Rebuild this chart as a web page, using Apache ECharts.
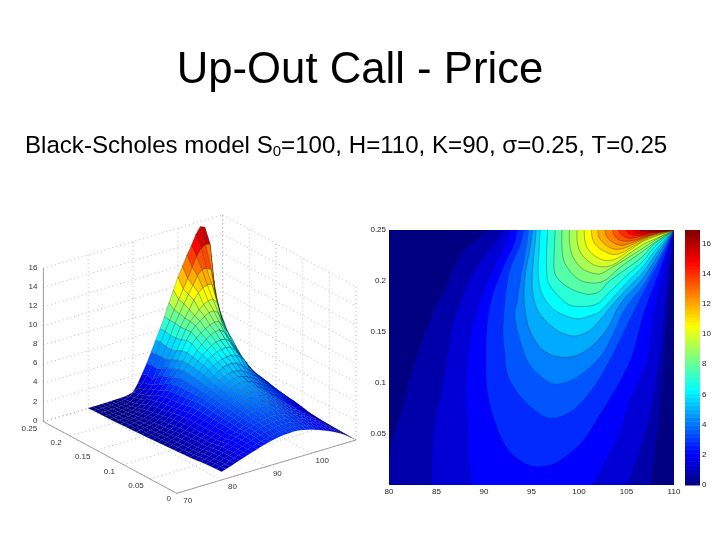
<!DOCTYPE html>
<html><head><meta charset="utf-8">
<style>html,body{margin:0;padding:0;background:#fff}#c{width:720px;height:540px}</style>
<script src="https://cdn.jsdelivr.net/npm/echarts@6/dist/echarts.min.js"></script>
</head><body><div id="c"></div>
<script>
// ---------- tick labels ----------
const priceTicks3D = [0,2,4,6,8,10,12,14,16];
const spotTicks3D = [70,80,90,100,110];
const timeTicks3D = [0,0.05,0.1,0.15,0.2,0.25];
const colorbarTop = 16.9;
const surfaceColorTop = 15.8;
// ---------- surface readings: columns S=80..110 step 1, rows t=0..0.25 step 0.01 ----------
const spotValues = [80,81,82,83,84,85,86,87,88,89,90,91,92,93,94,95,96,97,98,99,100,101,102,103,104,105,106,107,108,109,110];
const timeValues = [0,.01,.02,.03,.04,.05,.06,.07,.08,.09,.1,.11,.12,.13,.14,.15,.16,.17,.18,.19,.2,.21,.22,.23,.24,.25];
const priceGrid = [
[.87,1.0,1.15,1.32,1.5,1.65,1.82,1.98,2.13,2.28,2.42,2.53,2.63,2.72,2.78,2.8,2.82,2.8,2.72,2.6,2.48,2.32,2.15,1.97,1.77,1.55,1.3,1.05,.72,.37,0],
[.85,.97,1.1,1.27,1.44,1.6,1.76,1.92,2.08,2.22,2.36,2.48,2.6,2.7,2.78,2.85,2.9,2.88,2.82,2.72,2.6,2.44,2.27,2.08,1.87,1.64,1.38,1.1,.78,.4,0],
[.82,.95,1.08,1.24,1.41,1.58,1.76,1.94,2.12,2.28,2.43,2.57,2.7,2.82,2.9,2.97,3.0,2.98,2.92,2.82,2.7,2.54,2.37,2.17,1.95,1.71,1.44,1.15,.82,.42,0],
[.78,.91,1.05,1.21,1.38,1.57,1.76,1.96,2.15,2.33,2.5,2.65,2.8,2.93,3.03,3.1,3.12,3.1,3.03,2.92,2.8,2.63,2.45,2.24,2.02,1.77,1.5,1.2,.85,.44,0],
[.7,.85,1.0,1.17,1.35,1.55,1.75,1.97,2.18,2.38,2.56,2.73,2.9,3.04,3.15,3.22,3.25,3.23,3.15,3.03,2.9,2.73,2.53,2.32,2.1,1.85,1.58,1.27,.88,.45,0],
[.62,.78,.93,1.1,1.27,1.45,1.62,1.8,2.06,2.25,2.42,2.65,2.85,3.02,3.18,3.3,3.38,3.38,3.32,3.2,2.98,2.78,2.55,2.35,2.12,1.9,1.62,1.33,.9,.45,0],
[.58,.7,.83,.98,1.14,1.34,1.56,1.8,2.05,2.29,2.53,2.76,2.96,3.17,3.35,3.48,3.56,3.58,3.52,3.38,3.15,2.9,2.65,2.42,2.2,1.95,1.68,1.37,.95,.5,0],
[.55,.66,.79,.94,1.11,1.31,1.53,1.8,2.07,2.33,2.58,2.82,3.05,3.27,3.48,3.62,3.73,3.75,3.68,3.54,3.33,3.07,2.8,2.55,2.3,2.05,1.75,1.43,1.0,.55,0],
[.5,.62,.75,.89,1.08,1.28,1.51,1.78,2.07,2.36,2.63,2.88,3.13,3.37,3.59,3.77,3.89,3.92,3.87,3.71,3.52,3.27,2.98,2.7,2.44,2.18,1.86,1.52,1.15,.62,0],
[.46,.58,.7,.87,1.05,1.26,1.49,1.78,2.09,2.4,2.69,2.96,3.19,3.46,3.7,3.91,4.06,4.1,4.04,3.89,3.72,3.47,3.18,2.93,2.65,2.37,2.03,1.66,1.27,.68,0],
[.41,.55,.69,.84,1.03,1.24,1.47,1.78,2.11,2.44,2.73,3.02,3.25,3.49,3.77,3.99,4.16,4.24,4.24,4.14,3.95,3.68,3.4,3.15,2.85,2.55,2.2,1.8,1.38,.75,0],
[.38,.5,.63,.79,.97,1.18,1.45,1.76,2.09,2.46,2.79,3.08,3.33,3.59,3.87,4.12,4.31,4.43,4.45,4.35,4.18,3.9,3.6,3.35,3.03,2.7,2.33,1.9,1.43,.78,0],
[.35,.46,.58,.73,.91,1.13,1.41,1.74,2.09,2.46,2.83,3.15,3.41,3.68,3.97,4.24,4.45,4.62,4.65,4.55,4.4,4.15,3.85,3.55,3.2,2.85,2.45,2.0,1.5,.82,0],
[.31,.41,.54,.66,.83,1.06,1.34,1.68,2.05,2.43,2.82,3.19,3.49,3.81,4.14,4.41,4.64,4.84,4.91,4.86,4.72,4.45,4.12,3.78,3.4,3.0,2.58,2.12,1.6,.87,0],
[.28,.38,.5,.61,.77,.99,1.28,1.61,1.95,2.3,2.73,3.15,3.52,3.91,4.3,4.64,4.93,5.18,5.34,5.36,5.2,4.92,4.5,4.05,3.62,3.15,2.72,2.27,1.7,.92,0],
[.25,.35,.46,.56,.72,.91,1.2,1.53,1.82,2.15,2.65,3.1,3.52,4.02,4.47,4.93,5.22,5.42,5.63,5.71,5.75,5.6,5.3,4.8,3.95,3.3,2.85,2.4,1.8,.95,0],
[.22,.31,.4,.5,.64,.83,1.08,1.39,1.74,2.11,2.61,3.1,3.56,4.06,4.6,5.09,5.55,5.84,6.04,6.17,6.25,6.15,5.7,5.1,4.35,3.65,3.05,2.5,1.85,1.0,0],
[.18,.26,.35,.44,.56,.73,.95,1.28,1.66,2.07,2.53,3.06,3.6,4.14,4.68,5.22,5.71,6.09,6.42,6.65,6.72,6.7,6.3,5.6,4.8,4.1,3.4,2.65,1.95,1.1,0],
[.17,.23,.31,.39,.5,.65,.85,1.2,1.57,1.99,2.48,3.02,3.6,4.2,4.75,5.35,5.9,6.35,6.8,7.1,7.3,7.35,7.0,6.2,5.4,4.6,3.8,3.0,2.2,1.2,0],
[.14,.2,.25,.33,.41,.55,.75,1.08,1.41,1.82,2.28,2.82,3.35,4.0,4.75,5.5,6.3,6.75,7.15,7.45,7.7,7.85,7.8,7.15,6.4,5.5,4.5,3.5,2.7,1.4,0],
[.1,.14,.18,.25,.31,.41,.6,.89,1.28,1.62,1.95,2.5,3.1,3.8,4.55,5.4,6.35,7.1,7.6,7.95,8.3,8.55,8.6,8.3,7.1,6.1,5,4,3,1.7,0],
[.08,.11,.14,.18,.24,.31,.41,.62,.95,1.28,1.74,2.1,2.9,3.6,4.35,5.1,6.1,7.05,7.75,8.2,8.7,9.1,9.35,9.4,8.9,7.1,5.7,4.7,3.6,2.0,0],
[.07,.08,.11,.14,.18,.23,.31,.44,.7,1.03,1.53,1.86,2.57,3.27,4.0,4.9,6.0,7.0,7.8,8.55,9.4,10.0,10.4,10.55,10.5,8.7,6.9,5.5,4.4,2.4,0],
[.05,.06,.07,.1,.13,.17,.22,.33,.6,.83,1.2,1.57,1.9,2.9,4.0,4.95,5.95,7.1,7.95,8.85,9.7,10.5,11.35,11.85,11.85,11.6,8.8,7,5.6,3.1,0],
[.03,.04,.05,.07,.09,.12,.17,.25,.42,.72,1.0,1.45,2.1,3.0,4.0,5.1,6.1,7.1,8.05,9.0,9.95,10.9,11.9,12.9,13.6,13.9,13.8,9,6.5,4.4,0],
[.01,.01,.02,.02,.03,.04,.05,.07,.1,.15,.3,1.0,1.9,2.85,3.9,5.0,6.05,7.2,8.5,9.7,10.9,11.9,12.9,13.8,14.8,15.5,15.3,13.5,9.5,5,0]
];
// ---------- contour readings [S,t], one list of pieces per level ----------
const contourStep = 0.704;
const contourCurves = [
 [[[80,.032],[80.8,.059],[81.7,.088],[82.9,.127],[84.1,.157],[84.8,.174],[85.9,.193],[86.9,.216],[88,.232],[89.4,.242],[90.4,.25]],[[110,.25],[109.6,.2],[109.2,.15],[108.8,.1],[108.3,.05],[107.6,0]],[[80,0]]],
 [[[84.5,0],[84.5,.026],[84.8,.062],[85.6,.098],[86.1,.127],[86.6,.154],[87.5,.18],[88.7,.206],[90.1,.225],[91.5,.242],[92,.25]],[[110,.25],[109.4,.2],[108.9,.16],[108.4,.118],[107.3,.062],[105.2,0]]],
 [[[88.7,0],[88.3,.029],[88.2,.062],[88,.095],[88.3,.127],[88.8,.157],[89.8,.186],[91.2,.216],[92.2,.235],[92.7,.25]],[[110,.25],[108.8,.205],[107.9,.165],[107.3,.127],[106.6,.108],[105.4,.083],[104.1,.046],[101.4,0]]],
 [[[93.5,.25],[93.1,.235],[92,.213],[90.8,.183],[90.3,.154],[90.2,.125],[90.3,.095],[90.9,.069],[92.2,.039],[94,.023],[95.7,.018],[97.8,.023],[100.3,.042],[102.4,.072],[104.1,.098],[105.6,.127],[106.8,.168],[108.3,.205],[110,.25]]],
 [[[94.2,.25],[93.8,.235],[92.7,.21],[92.2,.18],[92,.15],[92.2,.127],[92.5,.108],[94,.085],[96.7,.066],[99.3,.073],[101.7,.098],[103.5,.127],[105.5,.165],[106.7,.187],[108.4,.218],[110,.25]]],
 [[[94.7,.25],[94.4,.23],[93.9,.205],[93.5,.18],[93.3,.162],[94.5,.123],[96.2,.105],[97.7,.099],[99.8,.106],[102.5,.129],[104.8,.172],[106.7,.195],[108.4,.222],[110,.25]]],
 [[[95.1,.25],[94.8,.23],[94.4,.21],[94.2,.19],[94.3,.172],[94.8,.152],[96.2,.132],[98.5,.125],[100.8,.132],[102.9,.152],[104,.172],[105,.185],[106.7,.202],[108.3,.225],[110,.25]]],
 [[[95.5,.25],[95.3,.23],[95.1,.21],[95.1,.19],[95.6,.172],[96.6,.16],[98,.15],[99.6,.146],[101.2,.152],[102.5,.165],[103.1,.172],[105,.192],[106.7,.208],[108.2,.228],[110,.25]]],
 [[[95.9,.25],[95.8,.23],[95.7,.21],[96,.19],[97,.175],[98.3,.167],[99.9,.163],[101.5,.167],[102.4,.172],[105,.198],[106.7,.214],[108.1,.231],[110,.25]]],
 [[[96.7,.25],[96.6,.23],[96.6,.21],[96.9,.196],[98.7,.178],[100.4,.175],[102,.178],[103,.187],[105,.205],[106.7,.219],[108,.234],[110,.25]]],
 [[[97.5,.25],[97.4,.23],[97.4,.21],[98,.2],[99.2,.192],[100.4,.188],[101.2,.187],[102.2,.19],[103.2,.2],[105,.212],[106.7,.224],[107.9,.236],[110,.25]]],
 [[[98.2,.25],[98.2,.235],[98.4,.22],[99.2,.208],[100.3,.2],[101.7,.198],[102.8,.201],[103.9,.21],[105,.218],[106.7,.229],[108,.238],[110,.25]]],
 [[[99,.25],[99,.238],[99.3,.225],[100.1,.214],[101,.209],[102.2,.207],[103.4,.213],[104.5,.219],[106.7,.232],[108,.24],[110,.25]]],
 [[[99.8,.25],[99.8,.24],[100.1,.229],[100.9,.22],[101.8,.215],[102.8,.214],[103.8,.217],[105,.225],[106.8,.236],[108.2,.242],[110,.25]]],
 [[[100.55,.25],[100.6,.241],[100.9,.232],[101.6,.225],[102.4,.221],[103.2,.22],[104.2,.223],[105.3,.23],[107,.24],[110,.25]]],
 [[[101.3,.25],[101.4,.242],[101.8,.235],[102.5,.23],[103.6,.226],[104.6,.228],[105.7,.234],[107.3,.242],[110,.25]]],
 [[[102,.25],[102.1,.243],[102.6,.237],[103.2,.233],[104,.231],[105,.233],[106.1,.238],[107.6,.244],[110,.25]]],
 [[[102.75,.25],[102.9,.244],[103.4,.239],[104.4,.235],[105.4,.237],[106.5,.241],[108,.246],[110,.25]]],
 [[[103.5,.25],[103.7,.245],[104.1,.241],[104.8,.239],[105.8,.24],[106.9,.243],[108.3,.247],[110,.25]]],
 [[[104.2,.25],[104.4,.246],[105.2,.242],[106.2,.243],[107.3,.245],[108.6,.248],[110,.25]]],
 [[[105,.25],[105.2,.247],[105.7,.245],[106.6,.245],[107.6,.247],[108.8,.2485],[110,.25]]],
 [[[105.7,.25],[105.9,.248],[106.2,.247],[107,.2472],[108,.248],[110,.25]]],
 [[[106.4,.25],[106.6,.2488],[106.8,.2485],[107.5,.2485],[110,.25]]]
];

function jet(v){
  v=Math.max(0,Math.min(1,v));
  const c=x=>Math.round(255*Math.max(0,Math.min(1,x)));
  return 'rgb('+c(1.5-Math.abs(4*v-3))+','+c(1.5-Math.abs(4*v-2))+','+c(1.5-Math.abs(4*v-1))+')';
}
// oblique 3D view of the left panel, in hidden-axis units
function project(S,t,z){
  return [176.7+4.483*(S-70)-533.3*t, 493.3-1.333*(S-70)-286.7*t-9.583*z];
}
function spline(p){
  if(p.length<3) return p;
  const out=[];
  for(let i=0;i<p.length-1;i++){
    const a=p[Math.max(i-1,0)],b=p[i],c=p[i+1],d=p[Math.min(i+2,p.length-1)];
    for(let k=0;k<6;k++){
      const u=k/6,u2=u*u,u3=u2*u;
      out.push([0,1].map(j=>0.5*(2*b[j]+(c[j]-a[j])*u+(2*a[j]-5*b[j]+4*c[j]-d[j])*u2+(3*b[j]-a[j]-3*c[j]+d[j])*u3)));
    }
  }
  out.push(p[p.length-1]);
  return out;
}

// surface cells, back to front
const cells=[];
for(let r=timeValues.length-2;r>=0;r--) for(let c=spotValues.length-2;c>=0;c--) cells.push([c,r]);
// frame of the 3D box
const frame=[];
const S0=70,S1=110,T0=0,T1=.25,Z1=16;
const dotted=(a,b)=>frame.push([a,b,0]), solid=(a,b)=>frame.push([a,b,1]);
priceTicks3D.forEach(z=>{dotted([S0,T1,z],[S1,T1,z]);dotted([S1,T1,z],[S1,T0,z]);});
spotTicks3D.forEach(s=>{dotted([s,T0,0],[s,T1,0]);dotted([s,T1,0],[s,T1,Z1]);});
timeTicks3D.forEach(t=>{dotted([S0,t,0],[S1,t,0]);dotted([S1,t,0],[S1,t,Z1]);});
solid([S0,T1,0],[S0,T0,0]);solid([S0,T0,0],[S1,T0,0]);solid([S0,T1,0],[S0,T1,Z1]);
const labels3D=[];
priceTicks3D.forEach(z=>labels3D.push([String(z),project(S0,T1,z),-6,-1,'right']));
spotTicks3D.slice(0,4).forEach(s=>labels3D.push([String(s),project(s,T0,0),11,7,'center']));
timeTicks3D.forEach(t=>labels3D.push([String(t),project(S0,t,0),t===0?-8:-14,t===0?5:7,'center']));

const colorSteps=[];for(let i=0;i<64;i++)colorSteps.push(i);

const chart=echarts.init(document.getElementById('c'),null,{renderer:'canvas'});
chart.setOption({
 animation:false,
 backgroundColor:'#fff',
 title:[
  {text:'Up-Out Call - Price',left:'center',top:44,textStyle:{fontFamily:'Liberation Sans',fontSize:43.7,fontWeight:'normal',color:'#000'}},
  {text:'Black-Scholes model S{sub|0}=100, H=110, K=90, σ=0.25, T=0.25',left:20,top:129,
   textStyle:{fontFamily:'Liberation Sans',fontSize:24.1,fontWeight:'normal',color:'#000',
    rich:{sub:{fontFamily:'Liberation Sans',fontSize:15,color:'#000',padding:[10,0,0,0]}}}}
 ],
 grid:[
  {left:389,top:230,width:285,height:255,show:true,backgroundColor:jet(0),borderWidth:0},
  {left:685,top:230,width:15,height:255,show:false},
  {left:0,top:0,width:720,height:540,show:false}
 ],
 xAxis:[
  {gridIndex:0,type:'value',min:80,max:110,interval:5,axisLine:{show:false},axisTick:{show:false},splitLine:{show:false},
   axisLabel:{fontFamily:'Liberation Sans',fontSize:8,color:'#222',margin:3}},
  {gridIndex:1,type:'value',min:0,max:1,show:false},
  {gridIndex:2,type:'value',min:0,max:720,show:false}
 ],
 yAxis:[
  {gridIndex:0,type:'value',min:0,max:.25,interval:.05,axisLine:{show:false},axisTick:{show:false},splitLine:{show:false},
   axisLabel:{fontFamily:'Liberation Sans',fontSize:8,color:'#222',margin:3,formatter:v=>v===0?'':String(v)}},
  {gridIndex:1,type:'value',min:0,max:colorbarTop,interval:2,position:'right',axisLine:{show:false},axisTick:{show:false},splitLine:{show:false},
   axisLabel:{fontFamily:'Liberation Sans',fontSize:8,color:'#222',margin:2,showMaxLabel:false}},
  {gridIndex:2,type:'value',min:0,max:540,inverse:true,show:false}
 ],
 series:[
  {type:'custom',name:'frame',xAxisIndex:2,yAxisIndex:2,silent:true,z:1,data:frame.map((f,i)=>[i]),
   renderItem:(p,api)=>{
     const f=frame[api.value(0)];
     const a=api.coord(project(...f[0])),b=api.coord(project(...f[1]));
     return {type:'line',shape:{x1:a[0],y1:a[1],x2:b[0],y2:b[1]},
       style:f[2]?{stroke:'#8a8a8a',lineWidth:.8}:{stroke:'#9a9a9a',lineWidth:.7,lineDash:[1,3]}};
   }},
  {type:'custom',name:'labels3D',xAxisIndex:2,yAxisIndex:2,silent:true,z:1,data:labels3D.map((f,i)=>[i]),
   renderItem:(p,api)=>{
     const l=labels3D[api.value(0)],a=api.coord(l[1]);
     return {type:'text',x:a[0]+l[2],y:a[1]+l[3],style:{text:l[0],textAlign:l[4],textVerticalAlign:'middle',font:'8px "Liberation Sans"',fill:'#333'}};
   }},
  {type:'custom',name:'surface',xAxisIndex:2,yAxisIndex:2,silent:true,z:2,data:cells,
   renderItem:(p,api)=>{
     const c=api.value(0),r=api.value(1);
     const idx=[[r,c],[r,c+1],[r+1,c+1],[r+1,c]];
     let sum=0;
     const pts=idx.map(q=>{const z=priceGrid[q[0]][q[1]];sum+=z;return api.coord(project(spotValues[q[1]],timeValues[q[0]],z));});
     const mean=sum/4;
     return {type:'polygon',shape:{points:pts},style:{fill:jet(mean/surfaceColorTop),stroke:'rgba(0,0,0,'+Math.min(.42,.1+mean*.05)+')',lineWidth:.5}};
   }},
  {type:'custom',name:'contour',xAxisIndex:0,yAxisIndex:0,silent:true,clip:true,z:2,data:contourCurves.map((c,i)=>[i]),
   renderItem:(p,api)=>{
     const k=api.value(0);
     const pieces=contourCurves[k].map(piece=>spline(piece.map(q=>api.coord(q))));
     const children=[{type:'polygon',shape:{points:[].concat(...pieces)},style:{fill:jet((k+1)*contourStep/colorbarTop),stroke:null}}];
     pieces.forEach(piece=>{if(piece.length>1)children.push({type:'polyline',shape:{points:piece},style:{fill:null,stroke:'rgba(0,0,0,'+(k<6?.25:.5)+')',lineWidth:.6}});});
     return {type:'group',children};
   }},
  {type:'custom',name:'colorbar',xAxisIndex:1,yAxisIndex:1,silent:true,z:2,data:colorSteps.map(i=>[i]),
   renderItem:(p,api)=>{
     const i=api.value(0);
     const a=api.coord([0,(i+1)/64*colorbarTop]),b=api.coord([1,i/64*colorbarTop]);
     return {type:'rect',shape:{x:a[0],y:a[1],width:b[0]-a[0],height:b[1]-a[1]+.5},style:{fill:jet((i+.5)/64)}};
   }}
 ]
});
</script></body></html>
